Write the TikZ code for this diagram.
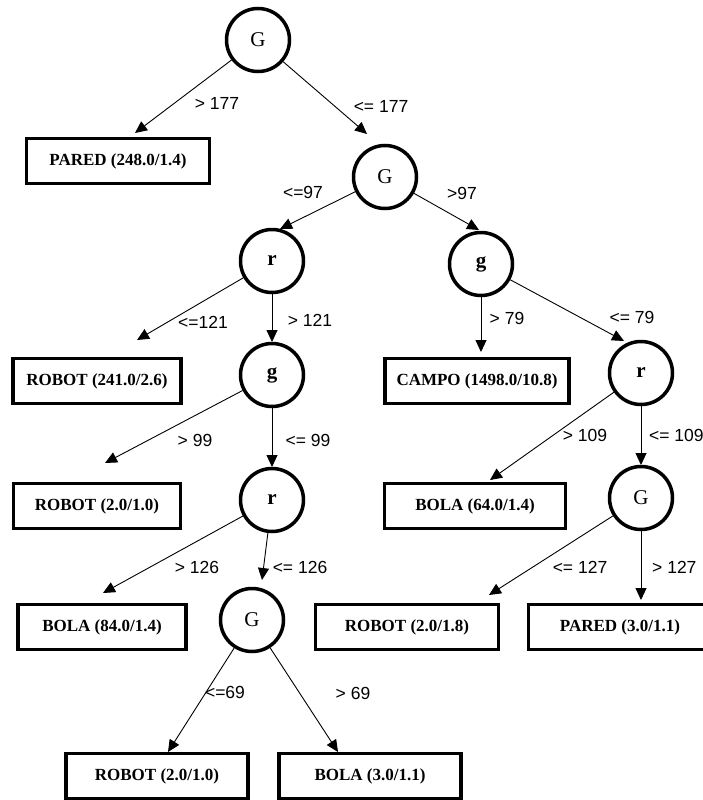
\documentclass[tikz,border=0pt]{standalone}
\usepackage{fontspec}
\setmainfont{Liberation Serif}
\newfontfamily\lblfont{Liberation Sans}
\usetikzlibrary{arrows.meta}
\begin{document}
\begin{tikzpicture}[x=1pt,y=-1pt,
  dec/.style={draw, circle, line width=3.5pt, minimum size=63pt, inner sep=0pt, font=\fontsize{21}{23}\selectfont},
  decb/.style={dec, font=\fontsize{21}{23}\selectfont\bfseries},
  leaf/.style={draw, line width=3.4pt, minimum width=#1, minimum height=45pt, inner sep=0pt, font=\fontsize{17}{19}\selectfont\bfseries},
  lbl/.style={font=\lblfont\fontsize{17.5}{19}\selectfont, inner sep=0pt},
  arr/.style={-{Triangle[length=12pt,width=11pt]}, line width=0.9pt}]
\fill[white] (0,0) rectangle (703,800);
\useasboundingbox (0,0) rectangle (703,800);
% decision nodes
\node[dec]  (G1) at (258,40)  {G};
\node[dec]  (G2) at (385,177) {G};
\node[decb] (r1) at (272,261) {r};
\node[decb] (g1) at (481,264) {g};
\node[decb] (g2) at (272,375) {g};
\node[decb] (r2) at (641,373) {r};
\node[decb] (r3) at (272,500) {r};
\node[dec]  (G3) at (641,498) {G};
\node[dec]  (G4) at (252,620) {G};
% leaves
\node[leaf=183pt] (p1) at (118,161) {PARED (248.0/1.4)};
\node[leaf=168pt] (rb241) at (97,381) {ROBOT (241.0/2.6)};
\node[leaf=184pt] (campo) at (477,381) {CAMPO (1498.0/10.8)};
\node[leaf=167pt] (rb20) at (97,506) {ROBOT (2.0/1.0)};
\node[leaf=181pt] (b64) at (475,506) {BOLA (64.0/1.4)};
\node[leaf=168pt] (b84) at (102,627) {BOLA (84.0/1.4)};
\node[leaf=183pt] (rb18) at (407,627) {ROBOT (2.0/1.8)};
\node[leaf=183pt] (p3) at (620,627) {PARED (3.0/1.1)};
\node[leaf=182pt] (rbB) at (157,776) {ROBOT (2.0/1.0)};
\node[leaf=182pt] (bB) at (370,776) {BOLA (3.0/1.1)};
% arrow tips
\coordinate (tp1) at (135,133);
\coordinate (tG2) at (367,134);
\coordinate (tr1) at (280,229);
\coordinate (tg1) at (479,230);
\coordinate (trb241) at (137,340);
\coordinate (tg2) at (272,342);
\coordinate (tcampo) at (481,352);
\coordinate (tr2) at (624,341);
\coordinate (trb20) at (105,463);
\coordinate (tr3) at (272,467);
\coordinate (tb64) at (490,480);
\coordinate (tG3) at (641,465);
\coordinate (tb84) at (103,593);
\coordinate (tG4) at (262,580);
\coordinate (trb18) at (489,595);
\coordinate (tp3) at (641,600);
\coordinate (trbB) at (168,752);
\coordinate (tbB) at (338,752);
% connectors
\draw[arr] (G1) -- (tp1);
\draw[arr] (G1) -- (tG2);
\draw[arr] (G2) -- (tr1);
\draw[arr] (G2) -- (tg1);
\draw[arr] (r1) -- (trb241);
\draw[arr] (r1) -- (tg2);
\draw[arr] (g1) -- (tcampo);
\draw[arr] (g1) -- (tr2);
\draw[arr] (g2) -- (trb20);
\draw[arr] (g2) -- (tr3);
\draw[arr] (r2) -- (tb64);
\draw[arr] (r2) -- (tG3);
\draw[arr] (r3) -- (tb84);
\draw[arr] (r3) -- (tG4);
\draw[arr] (G3) -- (trb18);
\draw[arr] (G3) -- (tp3);
\draw[arr] (G4) -- (trbB);
\draw[arr] (G4) -- (tbB);
% labels
\node[lbl] (l1) at (217,103) {> 177};
\node[lbl] (l2) at (381,106) {<= 177};
\node[lbl] (l3) at (303,192) {<=97};
\node[lbl] (l4) at (462,193) {>97};
\node[lbl] (l5) at (203,322) {<=121};
\node[lbl] (l6) at (310,320) {> 121};
\node[lbl] (l7) at (507,318) {> 79};
\node[lbl] (l8) at (632,317) {<= 79};
\node[lbl] (l9) at (195,440) {> 99};
\node[lbl] (l10) at (308,440) {<= 99};
\node[lbl] (l11) at (585,435) {> 109};
\node[lbl, anchor=west] (l12) at (649,435) {<= 109};
\node[lbl] (l13) at (197,567) {> 126};
\node[lbl] (l14) at (300,567) {<= 126};
\node[lbl] (l15) at (580,567) {<= 127};
\node[lbl, anchor=west] (l16) at (652,567) {> 127};
\node[lbl] (l17) at (225,692) {<=69};
\node[lbl] (l18) at (353,693) {> 69};
\end{tikzpicture}
\end{document}
